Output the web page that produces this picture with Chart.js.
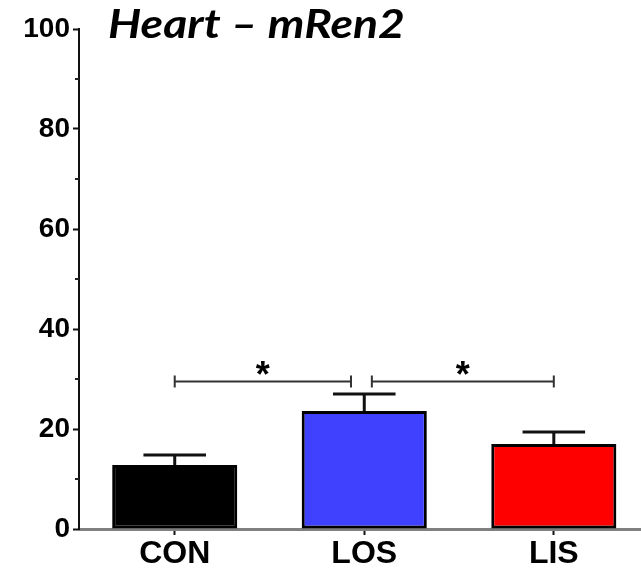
<!DOCTYPE html>
<html>
<head>
<meta charset="utf-8">
<script src="https://cdn.jsdelivr.net/npm/chart.js@4"></script>
<style>
  html, body { margin:0; padding:0; background:#fff; overflow:hidden; }
  #wrap { width:641px; height:570px; position:relative; }
</style>
</head>
<body>
<div id="wrap"><canvas id="c" width="641" height="570"></canvas></div>
<script>
// ---- data ----
const categories = ['CON', 'LOS', 'LIS'];
const means      = [12.8, 23.6, 17.0];
const errors     = [2.0, 3.4, 2.4];
const barColors  = ['#000000', '#4040ff', '#ff0000'];
const yTicks     = [0, 20, 40, 60, 80, 100];
const sigFrom    = [0, 1];
const sigTo      = [1, 2];
const sigLevel   = [29.5, 29.5];
const sigLabel   = ['*', '*'];
const titleText  = 'Heart \u2013 mRen2';

const FONT = '"Liberation Sans", Arial, sans-serif';

const overlay = {
  id: 'overlay',
  afterDatasetsDraw(chart) {
    const ctx = chart.ctx, x = chart.scales.x, y = chart.scales.y;
    ctx.save();
    // minor y ticks
    ctx.strokeStyle = '#222'; ctx.lineWidth = 2;
    for (let v = 10; v < 100; v += 20) {
      const py = y.getPixelForValue(v);
      ctx.beginPath(); ctx.moveTo(x.left - 4, py); ctx.lineTo(x.left, py); ctx.stroke();
    }
    // error bars
    const capHalf = 0.165;
    ctx.strokeStyle = '#111'; ctx.lineWidth = 3; ctx.lineCap = 'butt';
    means.forEach((m, i) => {
      const px = x.getPixelForValue(i);
      const top = y.getPixelForValue(m + errors[i]);
      const base = y.getPixelForValue(m);
      ctx.beginPath(); ctx.moveTo(px, base); ctx.lineTo(px, top); ctx.stroke();
      ctx.beginPath();
      ctx.moveTo(x.getPixelForValue(i - capHalf), top);
      ctx.lineTo(x.getPixelForValue(i + capHalf), top);
      ctx.stroke();
    });
    // significance brackets
    ctx.strokeStyle = '#333'; ctx.lineWidth = 2;
    sigFrom.forEach((a, k) => {
      const b = sigTo[k];
      const a2 = k === 0 ? a : a + 0.04;
      const b2 = k === 0 ? b - 0.07 : b;
      const x1 = x.getPixelForValue(a2), x2 = x.getPixelForValue(b2);
      const py = y.getPixelForValue(sigLevel[k]);
      ctx.beginPath();
      ctx.moveTo(x1, py); ctx.lineTo(x2, py);
      ctx.moveTo(x1, py - 6); ctx.lineTo(x1, py + 6);
      ctx.moveTo(x2, py - 6); ctx.lineTo(x2, py + 6);
      ctx.stroke();
      ctx.fillStyle = '#000';
      ctx.font = 'bold 36px ' + FONT;
      ctx.textAlign = 'center'; ctx.textBaseline = 'alphabetic';
      ctx.fillText(sigLabel[k], (x1 + x2) / 2, py + 5);
    });
    // title
    ctx.fillStyle = '#000';
    ctx.font = 'italic bold 41px Lato, sans-serif';
    ctx.textAlign = 'left'; ctx.textBaseline = 'alphabetic';
    const w = ctx.measureText(titleText).width;
    ctx.translate(x.left + 29, y.top + 9);
    ctx.scale(297 / w, 1);
    ctx.fillText(titleText, 0, 0);
    ctx.restore();
  }
};

new Chart(document.getElementById('c'), {
  type: 'bar',
  data: {
    datasets: [{
      data: means.map((m, i) => ({ x: i, y: m })),
      backgroundColor: barColors,
      borderColor: '#000',
      borderWidth: 3,
      borderSkipped: false,
      barPercentage: 0.66,
      categoryPercentage: 1.0
    }]
  },
  options: {
    responsive: false,
    animation: false,
    layout: { padding: { top: 29, left: 0, right: 0, bottom: 0 } },
    plugins: { legend: { display: false }, tooltip: { enabled: false }, title: { display: false } },
    scales: {
      x: {
        type: 'linear',
        offset: false,
        min: -0.505,
        max: 2.46,
        afterBuildTicks: s => { s.ticks = categories.map((_, i) => ({ value: i })); },
        afterFit: s => { s.height = 41; },
        grid: { display: true, offset: false, drawOnChartArea: false, tickLength: 6, tickWidth: 2, tickColor: '#111' },
        border: { display: true, color: '#808080', width: 3 },
        ticks: {
          autoSkip: false, maxRotation: 0, padding: 0,
          color: '#000',
          font: { family: FONT, size: 32, weight: 'bold' },
          callback: v => categories[v] ?? ''
        }
      },
      y: {
        min: 0, max: 100,
        afterBuildTicks: s => { s.ticks = yTicks.map(v => ({ value: v })); },
        afterFit: s => { s.width = 79; },
        grid: { display: true, drawOnChartArea: false, tickLength: 6, tickWidth: 2, tickColor: '#111' },
        border: { display: true, color: '#111', width: 2 },
        ticks: {
          autoSkip: false, padding: 3, color: '#000',
          font: { family: FONT, size: 28, weight: 'bold' }
        }
      }
    }
  },
  plugins: [overlay]
});
</script>
</body>
</html>
